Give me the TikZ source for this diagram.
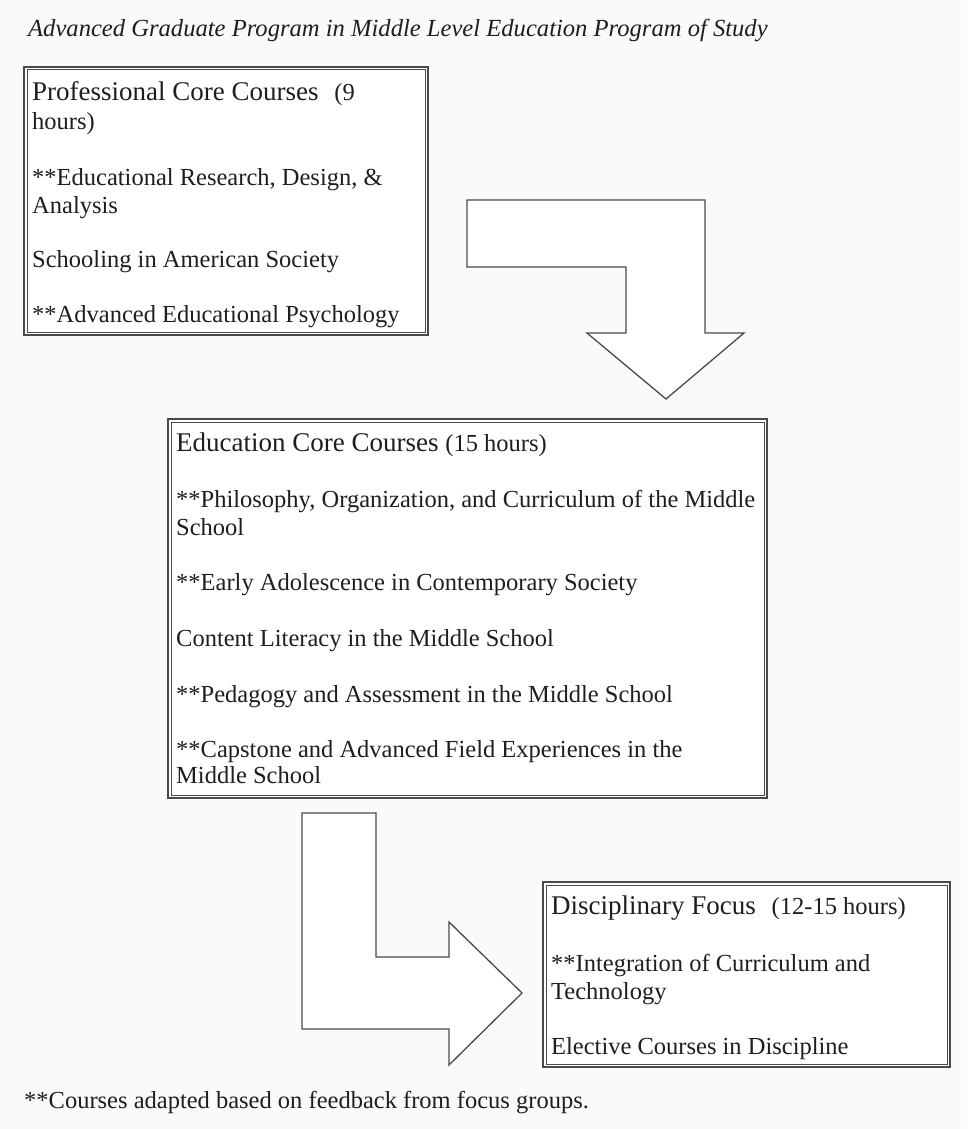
\documentclass[tikz,border=0pt]{standalone}
\usepackage{fontspec}
\setmainfont{Liberation Serif}
\definecolor{ink}{HTML}{1E1E1E}
\definecolor{frame}{HTML}{4A4A4A}
\definecolor{paper}{HTML}{FAFAFA}
\begin{document}
\begin{tikzpicture}[x=1pt,y=-1pt,
  box/.style={draw=frame, line width=1.1pt, fill=white, rectangle, inner sep=0pt},
  innerframe/.style={draw=frame, line width=0.9pt},
  blockarrow/.style={draw=frame, line width=1.3pt, fill=white, line join=miter},
  txt/.style={anchor=base west, inner sep=0pt, text=ink, font=\fontsize{24.5}{28}\selectfont},
  head/.style={anchor=base west, inner sep=0pt, text=ink, font=\fontsize{27}{30}\selectfont},
  ttl/.style={anchor=base west, inner sep=0pt, text=ink, font=\fontsize{24.6}{28}\selectfont\itshape}]
\fill[paper] (0,0) rectangle (967,1129);
\useasboundingbox (0,0) rectangle (967,1129);

% title
\node[ttl] (title) at (28,37) {Advanced Graduate Program in Middle Level Education Program of Study};

% box 1
\node[box, minimum width=404pt, minimum height=268pt] (b1) at (226,201) {};
\draw[innerframe] ([shift={(3.5,3.5)}]b1.north west) rectangle ([shift={(-3.5,-3.5)}]b1.south east);
\node[head] (b1h) at (32,101) {Professional Core Courses\,\, {\fontsize{24.5}{28}\selectfont(9}};
\node[txt] (b1h2) at (32,129) {hours)};
\node[txt] (b1a) at (32,185) {**Educational Research, Design, \&};
\node[txt] (b1a2) at (32,213) {Analysis};
\node[txt] (b1b) at (32,267) {Schooling in American Society};
\node[txt] (b1c) at (32,322) {**Advanced Educational Psychology};

% arrow 1
\draw[blockarrow] (467,200) -- (705,200) -- (705,333) -- (744,333) -- (666,399)
  -- (587,333) -- (626,333) -- (626,267) -- (467,267) -- cycle;

% box 2
\node[box, minimum width=599pt, minimum height=379pt] (b2) at (467.5,608.5) {};
\draw[innerframe] ([shift={(3.5,3.5)}]b2.north west) rectangle ([shift={(-3.5,-3.5)}]b2.south east);
\node[head] (b2h) at (176,451) {Education Core Courses {\fontsize{24.5}{28}\selectfont(15 hours)}};
\node[txt] (b2a) at (176,507) {**Philosophy, Organization, and Curriculum of the Middle};
\node[txt] (b2a2) at (176,535) {School};
\node[txt] (b2b) at (176,590) {**Early Adolescence in Contemporary Society};
\node[txt] (b2c) at (176,646) {Content Literacy in the Middle School};
\node[txt] (b2d) at (176,702) {**Pedagogy and Assessment in the Middle School};
\node[txt] (b2e) at (176,757) {**Capstone and Advanced Field Experiences in the};
\node[txt] (b2e2) at (176,783) {Middle School};

% arrow 2
\draw[blockarrow] (302,813) -- (376,813) -- (376,957) -- (449,957) -- (449,922)
  -- (522,993) -- (449,1065) -- (449,1029) -- (302,1029) -- cycle;

% box 3
\node[box, minimum width=407pt, minimum height=185pt] (b3) at (746.5,974.5) {};
\draw[innerframe] ([shift={(3.5,3.5)}]b3.north west) rectangle ([shift={(-3.5,-3.5)}]b3.south east);
\node[head] (b3h) at (551,914) {Disciplinary Focus\,\, {\fontsize{24.5}{28}\selectfont(12-15 hours)}};
\node[txt] (b3a) at (551,971) {**Integration of Curriculum and};
\node[txt] (b3a2) at (551,999) {Technology};
\node[txt] (b3b) at (551,1054) {Elective Courses in Discipline};

% footnote
\node[txt] (foot) at (24,1108) {**Courses adapted based on feedback from focus groups.};
\end{tikzpicture}
\end{document}
